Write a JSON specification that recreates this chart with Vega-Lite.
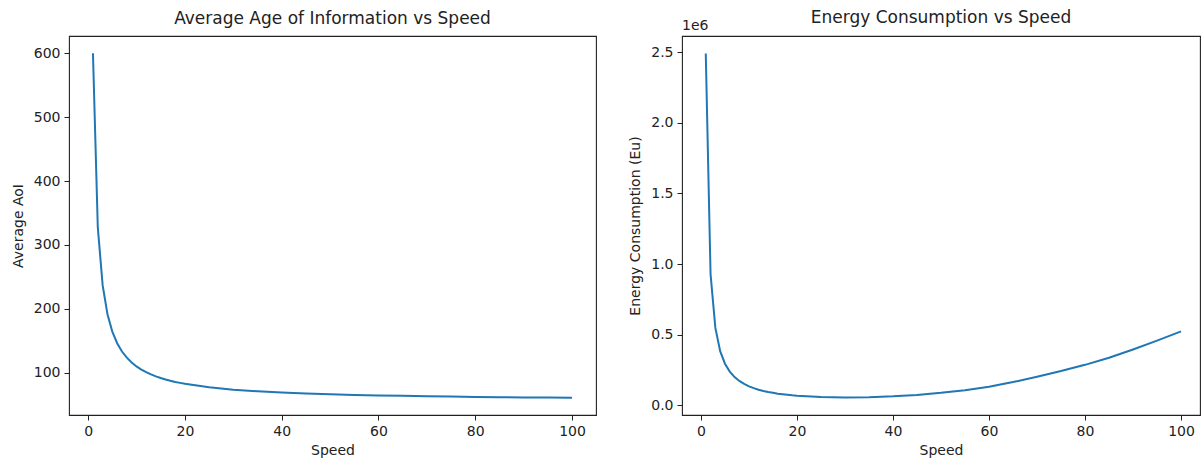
{
  "$schema": "https://vega.github.io/schema/vega-lite/v6.json",
  "padding": {"left": 10, "top": 8, "right": 0, "bottom": 0},
  "config": {
    "font": "DejaVu Sans",
    "view": {"stroke": "#222", "strokeWidth": 1.1},
    "axis": {"grid": false, "domain": false, "ticks": true, "tickSize": 5, "tickColor": "#222", "tickWidth": 1, "labelColor": "#222", "labelFontSize": 14, "titleFontSize": 14, "titleFontWeight": "normal", "titleColor": "#222", "labelFont": "DejaVu Sans", "titleFont": "DejaVu Sans", "labelPadding": 4},
    "title": {"fontSize": 17, "fontWeight": "normal", "color": "#222", "offset": 8, "font": "DejaVu Sans", "frame": "group"}
  },
  "data": {"values": [
    {"speed": 1, "aoi": 600.0, "energy": 2490000},
    {"speed": 2, "aoi": 327.8, "energy": 928000},
    {"speed": 3, "aoi": 237.1, "energy": 548000},
    {"speed": 4, "aoi": 191.7, "energy": 384000},
    {"speed": 5, "aoi": 164.5, "energy": 295000},
    {"speed": 6, "aoi": 146.3, "energy": 239000},
    {"speed": 7, "aoi": 133.4, "energy": 200000},
    {"speed": 8, "aoi": 123.7, "energy": 173000},
    {"speed": 9, "aoi": 116.1, "energy": 152000},
    {"speed": 10, "aoi": 110.0, "energy": 135000},
    {"speed": 11, "aoi": 105.1, "energy": 122000},
    {"speed": 12, "aoi": 101.0, "energy": 111000},
    {"speed": 13, "aoi": 97.5, "energy": 102000},
    {"speed": 14, "aoi": 94.5, "energy": 95000},
    {"speed": 15, "aoi": 91.9, "energy": 89000},
    {"speed": 16, "aoi": 89.6, "energy": 83000},
    {"speed": 17, "aoi": 87.6, "energy": 79000},
    {"speed": 18, "aoi": 85.8, "energy": 75000},
    {"speed": 19, "aoi": 84.3, "energy": 71000},
    {"speed": 20, "aoi": 82.8, "energy": 68000},
    {"speed": 25, "aoi": 77.4, "energy": 59000},
    {"speed": 30, "aoi": 73.7, "energy": 56000},
    {"speed": 35, "aoi": 71.2, "energy": 58000},
    {"speed": 40, "aoi": 69.2, "energy": 64000},
    {"speed": 45, "aoi": 67.7, "energy": 74000},
    {"speed": 50, "aoi": 66.5, "energy": 89000},
    {"speed": 55, "aoi": 65.5, "energy": 108000},
    {"speed": 60, "aoi": 64.7, "energy": 132000},
    {"speed": 65, "aoi": 64.0, "energy": 165000},
    {"speed": 70, "aoi": 63.4, "energy": 203000},
    {"speed": 75, "aoi": 62.9, "energy": 243000},
    {"speed": 80, "aoi": 62.4, "energy": 287000},
    {"speed": 85, "aoi": 62.0, "energy": 337000},
    {"speed": 90, "aoi": 61.6, "energy": 396000},
    {"speed": 95, "aoi": 61.3, "energy": 458000},
    {"speed": 100, "aoi": 61.0, "energy": 524000}
  ]},
  "spacing": 31,
  "hconcat": [
    {
      "width": 527,
      "height": 379,
      "title": "Average Age of Information vs Speed",
      "mark": {"type": "line", "color": "#1f77b4", "strokeWidth": 2, "clip": true},
      "encoding": {
        "x": {"field": "speed", "type": "quantitative",
              "scale": {"domain": [-3.95, 104.95], "nice": false, "zero": false},
              "axis": {"values": [0, 20, 40, 60, 80, 100], "title": "Speed", "titlePadding": 5}},
        "y": {"field": "aoi", "type": "quantitative",
              "scale": {"domain": [34.05, 626.95], "nice": false, "zero": false},
              "axis": {"values": [100, 200, 300, 400, 500, 600], "title": "Average AoI", "titlePadding": 8}}
      }
    },
    {
      "width": 518,
      "height": 379,
      "title": {"text": "Energy Consumption vs Speed", "offset": -8},
      "layer": [
        {
          "mark": {"type": "line", "color": "#1f77b4", "strokeWidth": 2, "clip": true},
          "encoding": {
            "x": {"field": "speed", "type": "quantitative",
                  "scale": {"domain": [-3.95, 103.95], "nice": false, "zero": false},
                  "axis": {"values": [0, 20, 40, 60, 80, 100], "title": "Speed", "titlePadding": 5}},
            "y": {"field": "energy", "type": "quantitative",
                  "scale": {"domain": [-67900, 2613600], "nice": false, "zero": false},
                  "axis": {"values": [0, 500000, 1000000, 1500000, 2000000, 2500000], "labelExpr": "format(datum.value / 1000000, '.1f')", "title": "Energy Consumption (Eu)", "titlePadding": 8}}
          }
        },
        {
          "data": {"values": [{"speed": -3.95, "energy": 2613600, "label": "1e6"}]},
          "mark": {"type": "text", "align": "left", "baseline": "bottom", "dy": -3, "fontSize": 14, "color": "#222", "font": "DejaVu Sans"},
          "encoding": {
            "x": {"field": "speed", "type": "quantitative"},
            "y": {"field": "energy", "type": "quantitative"},
            "text": {"field": "label"}
          }
        }
      ]
    }
  ]
}
